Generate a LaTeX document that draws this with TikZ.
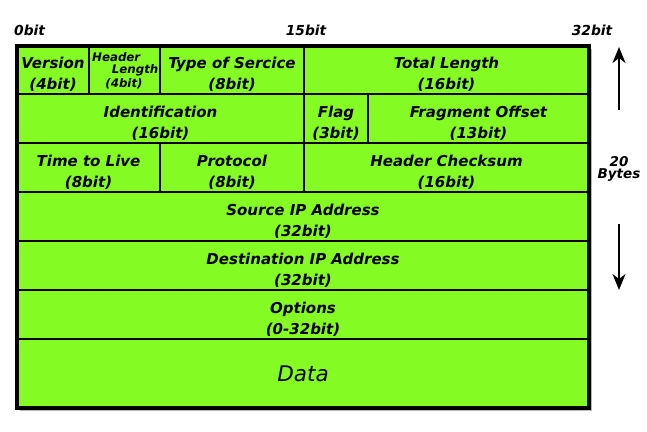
\documentclass[tikz,border=0pt]{standalone}
\usepackage{fontspec}
\setmainfont{DejaVu Sans}
\usetikzlibrary{fit,arrows.meta}
\definecolor{ipgreen}{RGB}{132,252,36}
\newcommand\fld[6]{%
  \node[field, fit={(#2,#3) (#4,#5)}] (#1) {};
  \node[ftext] (#1t) at ([yshift=-4.5pt]#1.center) {#6};}
\begin{document}
\begin{tikzpicture}[x=1pt,y=-1pt,
  field/.style={draw, line width=1.3pt, fill=ipgreen, inner sep=0pt},
  ftext/.style={inner sep=0pt, align=center,
    font=\fontsize{15}{21}\selectfont\bfseries\itshape},
  small/.style={inner sep=0pt, font=\fontsize{11.8}{13}\selectfont\bfseries\itshape},
  toplabel/.style={inner sep=0pt, font=\fontsize{13.8}{16}\selectfont\bfseries\itshape},
  side/.style={inner sep=0pt, align=center, font=\fontsize{13.5}{12.5}\selectfont\bfseries\itshape},
  sidearrow/.style={line width=1.9pt, -{Stealth[length=16pt,width=13pt,inset=5pt]}}]
\useasboundingbox (0,0) rectangle (647,431);
% shadow
\fill[gray!55] (19.5,48.5) rectangle (592,411);
% row 1
\fld{ver}{17}{46}{89}{94}{Version\\(4bit)}
\node[field, fit={(89,46) (160,94)}] (hl) {};
\fld{tos}{160}{46}{304}{94}{Type of Sercice\\(8bit)}
\fld{tl}{304}{46}{589}{94}{Total Length\\(16bit)}
% row 2
\fld{id}{17}{94}{304}{143}{Identification\\(16bit)}
\fld{flag}{304}{94}{368}{143}{Flag\\(3bit)}
\fld{frag}{368}{94}{589}{143}{Fragment Offset\\(13bit)}
% row 3
\fld{ttl}{17}{143}{160}{192}{Time to Live\\(8bit)}
\fld{proto}{160}{143}{304}{192}{Protocol\\(8bit)}
\fld{csum}{304}{143}{589}{192}{Header Checksum\\(16bit)}
% rows 4-6
\fld{src}{17}{192}{589}{241}{Source IP Address\\(32bit)}
\fld{dst}{17}{241}{589}{290}{Destination IP Address\\(32bit)}
\fld{opt}{17}{290}{589}{339}{Options\\(0-32bit)}
% data
\node[field, fit={(17,339) (589,408)}] (data) {};
\node[inner sep=0pt, font=\fontsize{21.5}{24}\selectfont\itshape] (datat) at ([yshift=-0.5pt]data.center) {Data};
% header length texts
\node[small, anchor=west] (hlh) at (92,57) {Header};
\node[small, anchor=east] (hll) at (158.5,70) {Length};
\node[small] (hlb) at (124,84) {(4bit)};
% outer frame
\draw[line width=3.5pt] (17,46) rectangle (589,408);
% top labels
\node[toplabel, anchor=west] (b0) at (14,30) {0bit};
\node[toplabel] (b15) at (306,30) {15bit};
\node[toplabel] (b32) at (592,30) {32bit};
% side
\node[side] (bytes) at (619,169) {20\\Bytes};
\coordinate (upbot) at (619,110);
\coordinate (uptop) at (619,47);
\coordinate (dntop) at (619,224);
\coordinate (dnbot) at (619,290);
\draw[sidearrow] (upbot) -- (uptop);
\draw[sidearrow] (dntop) -- (dnbot);
\end{tikzpicture}
\end{document}
